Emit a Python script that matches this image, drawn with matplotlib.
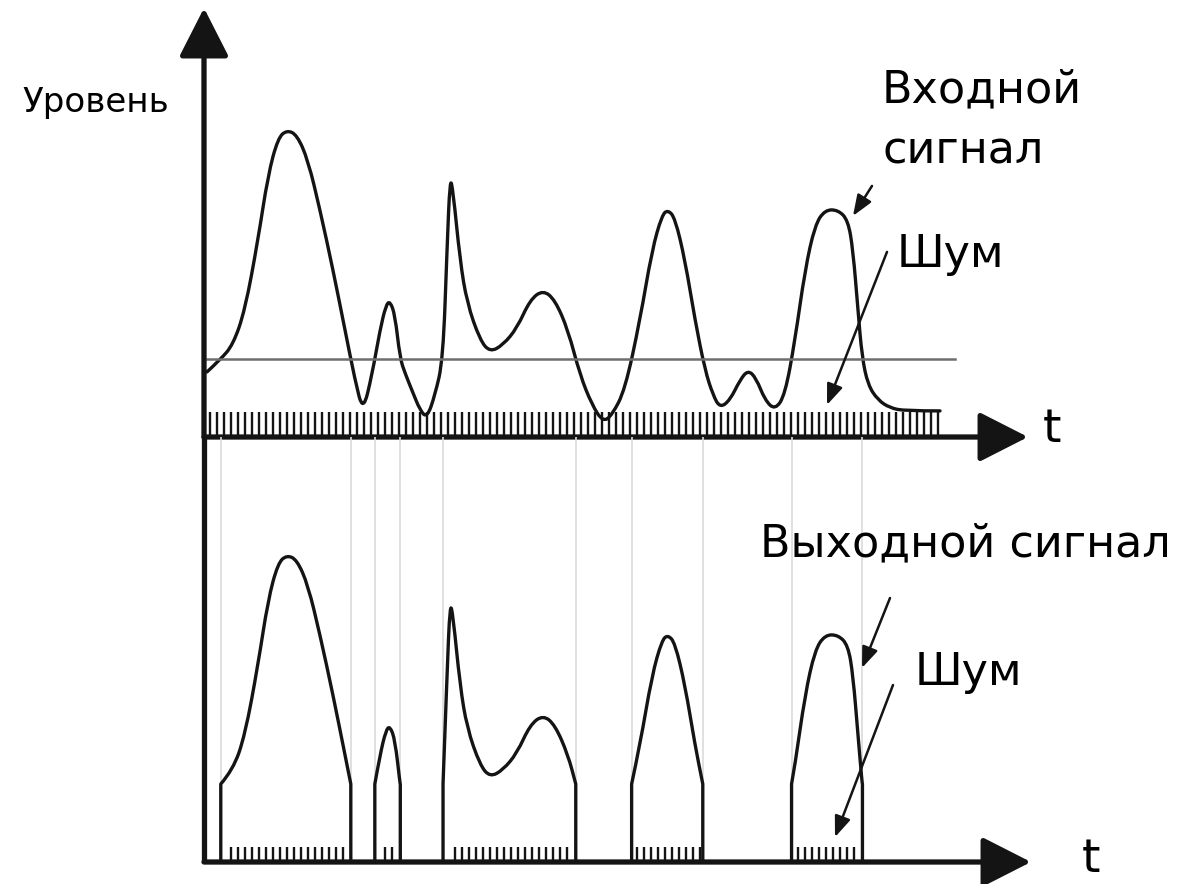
import numpy as np
import matplotlib.pyplot as plt
from matplotlib.path import Path
from matplotlib.patches import PathPatch

# Input signal: time (arbitrary units) and level (%)
sig_t = [0.3, 1.6, 2.9, 4.1, 5.4, 6.4, 7.4, 8.3, 9.3, 10.4, 11.6, 12.9, 14.1, 15.1,
         15.9, 16.8, 17.6, 18.2, 18.6, 19.1, 19.6, 20.1, 20.9, 21.6, 22.3, 23.1,
         23.9, 24.3, 24.6, 24.9, 25.6, 26.3, 27.6, 28.6, 29.9, 31.3, 32.6, 33.9,
         35.1, 36.4, 37.6, 38.8, 39.9, 40.8, 42.1, 43.6, 44.8, 45.8, 46.4, 47.1,
         48.1, 49.1, 50.1, 50.9, 51.6, 52.6, 53.6, 54.4, 55.2, 56.1, 57.1, 58.1,
         59.1, 60.1, 61.1, 62.1, 63.4, 64.4, 64.9, 65.4, 65.8, 66.4, 67.4, 68.6,
         70.1, 73.6]
sig_level = [21.7, 25.7, 30.7, 42.3, 65.7, 87.3, 99.7, 102.3, 100.7, 92.3, 75.7, 55.7,
             35.7, 19.0, 8.3, 20.7, 35.7, 44.0, 45.3, 40.7, 26.3, 21.3, 14.7, 9.0,
             6.3, 14.0, 25.7, 62.3, 86.5, 82.3, 59.0, 44.7, 32.3, 28.3, 30.7, 36.3,
             45.7, 49.0, 45.7, 35.7, 20.7, 10.7, 5.0, 7.3, 15.7, 39.0, 62.3, 74.0,
             75.7, 73.0, 59.0, 39.0, 22.3, 14.0, 9.7, 12.3, 19.0, 22.3, 19.7, 12.3,
             9.0, 14.0, 32.3, 55.7, 70.7, 75.7, 75.7, 72.3, 62.3, 42.3, 26.7, 17.3,
             12.3, 9.7, 8.7, 8.7]

threshold = 26.0
threshold_end = 75.1
noise_in = 8.3      # noise height in the input
noise_out = 5.0     # residual noise inside open gate
noise_start, noise_end, noise_step = 0.6, 73.6, 0.7
t_axis_end = 82.4

sig_t = np.array(sig_t)
sig_level = np.array(sig_level)

# gate open intervals: where the input is above the threshold
above = sig_level > threshold
gates = []
i = 0
while i < len(sig_t):
    if above[i]:
        j = i
        while j + 1 < len(sig_t) and above[j + 1]:
            j += 1
        if i > 0:
            a = (threshold - sig_level[i - 1]) / (sig_level[i] - sig_level[i - 1])
            t0 = sig_t[i - 1] + a * (sig_t[i] - sig_t[i - 1])
        else:
            t0 = sig_t[i]
        b = (threshold - sig_level[j]) / (sig_level[j + 1] - sig_level[j])
        t1 = sig_t[j] + b * (sig_t[j + 1] - sig_t[j])
        gates.append((t0, t1, i, j))
        i = j + 1
    else:
        i += 1


def smooth_line(ax, xs, ys, sharp=()):
    # rounded polyline: quadratic bezier through the midpoints,
    # indices in `sharp` are kept as hard corners
    pts = np.column_stack([xs, ys])
    verts = [pts[0]]
    codes = [Path.MOVETO]
    for k in range(1, len(pts) - 1):
        if k in sharp:
            verts.append(pts[k])
            codes.append(Path.LINETO)
            continue
        mid = (pts[k] + pts[k + 1]) / 2
        if k + 1 in sharp or k + 1 == len(pts) - 1:
            mid = pts[k + 1] if k + 1 == len(pts) - 1 else mid
        verts += [pts[k], mid]
        codes += [Path.CURVE3, Path.CURVE3]
    verts.append(pts[-1])
    codes.append(Path.LINETO)
    ax.add_patch(PathPatch(Path(verts, codes), fill=False, edgecolor=ink, lw=2.4,
                           joinstyle='round', capstyle='round'))


fig = plt.figure(figsize=(11.97, 8.84), dpi=100)
ax_top = fig.add_axes([0, 0, 1, 1])
ax_bot = fig.add_axes([0, 0, 1, 1])
for ax in (ax_top, ax_bot):
    ax.set_xlim(-20.4, 99.3)
    ax.axis('off')
    ax.patch.set_alpha(0)
ax_top.set_ylim(-149.0, 145.67)
ax_bot.set_ylim(-7.33, 287.33)

ink = '#141414'
axis_arrow = dict(arrowstyle='-|>,head_length=0.55,head_width=0.28', mutation_scale=55,
                  lw=3.8, color=ink, shrinkA=0, shrinkB=0)
small_arrow = dict(arrowstyle='-|>,head_length=0.9,head_width=0.35', mutation_scale=14,
                   lw=1.8, color=ink, shrinkA=0, shrinkB=0)
font = 'DejaVu Sans'

# faint guide lines from the gate edges
for t0, t1, _, _ in gates:
    ax_bot.vlines([t0, t1], 0, 141.7, color='#dadada', lw=1.2, zorder=0)

# ---------- top panel: input ----------
ax_top.annotate('', xy=(0, 143), xytext=(0, 0), arrowprops=axis_arrow)
ax_top.annotate('', xy=(t_axis_end, 0), xytext=(0, 0), arrowprops=axis_arrow)
ax_top.vlines(np.arange(noise_start, noise_end, noise_step), 0, noise_in, color=ink, lw=1.7)
ax_top.plot([0.3, threshold_end], [threshold, threshold], color='#6e6e6e', lw=1.8)
smooth_line(ax_top, sig_t, sig_level)

ax_top.text(-18.2, 108.3, 'Уровень', fontsize=24.5, family=font, va='baseline')
ax_top.text(67.8, 111.7, 'Входной', fontsize=32, family=font, va='baseline')
ax_top.text(67.8, 91.3, 'сигнал', fontsize=32, family=font, va='baseline')
ax_top.text(69.3, 56.7, 'Шум', fontsize=32, family=font, va='baseline')
ax_top.text(83.9, -1.7, 't', fontsize=34, family=font, va='baseline')
ax_top.annotate('', xy=(64.9, 73.7), xytext=(66.8, 83.7), arrowprops=small_arrow)
ax_top.annotate('', xy=(62.3, 10.7), xytext=(68.3, 61.7), arrowprops=small_arrow)

# ---------- bottom panel: output after the gate ----------
ax_bot.plot([0, 0], [0, 141.7], color=ink, lw=3.8, solid_capstyle='butt')
ax_bot.annotate('', xy=(t_axis_end + 0.3, 0), xytext=(0, 0), arrowprops=axis_arrow)
ticks = np.arange(noise_start, noise_end, noise_step)
for t0, t1, i, j in gates:
    seg_t = np.concatenate([[t0, t0], sig_t[i:j + 1], [t1, t1]])
    seg_l = np.concatenate([[0, threshold], sig_level[i:j + 1], [threshold, 0]])
    n = len(seg_t)
    smooth_line(ax_bot, seg_t, seg_l, sharp=(1, n - 2))
    inside = ticks[(ticks > t0 + 0.5) & (ticks < t1 - 0.2)]
    ax_bot.vlines(inside, 0, noise_out, color=ink, lw=1.7)

ax_bot.text(55.6, 101.7, 'Выходной сигнал', fontsize=32, family=font, va='baseline')
ax_bot.text(71.1, 59.0, 'Шум', fontsize=32, family=font, va='baseline')
ax_bot.text(87.8, -3.3, 't', fontsize=34, family=font, va='baseline')
ax_bot.annotate('', xy=(65.8, 64.7), xytext=(68.6, 88.0), arrowprops=small_arrow)
ax_bot.annotate('', xy=(63.1, 8.3), xytext=(68.9, 59.0), arrowprops=small_arrow)

fig.savefig('out.png', dpi=100)
